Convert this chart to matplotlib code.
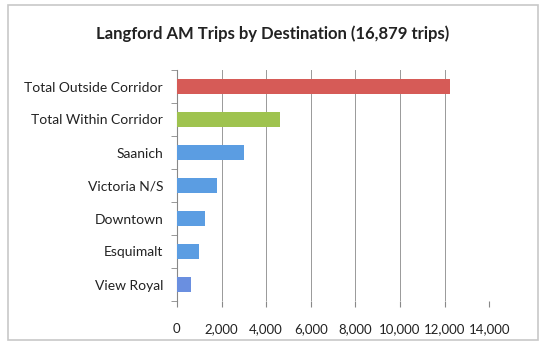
import matplotlib
matplotlib.use("Agg")
import matplotlib.pyplot as plt
from matplotlib.patches import Rectangle

categories = ["Total Outside Corridor", "Total Within Corridor", "Saanich",
              "Victoria N/S", "Downtown", "Esquimalt", "View Royal"]
trips = [12240, 4640, 3000, 1790, 1250, 990, 630]
colors = ["#d65b57", "#9fc34f", "#5b9de2", "#5b9de2", "#5b9de2", "#5b9de2", "#6a8fe0"]
xticks = [0, 2000, 4000, 6000, 8000, 10000, 12000, 14000]

plt.rcParams['font.family'] = ['Lato', 'DejaVu Sans']

fig = plt.figure(figsize=(5.46, 3.5), dpi=100)
# chart area frame
fig.patches.append(Rectangle((0.015, 0.03), 0.97, 0.955, transform=fig.transFigure,
                             fill=False, edgecolor="#c8c8c8", linewidth=1.2))

ax = fig.add_axes([0.324, 0.14, 0.572, 0.66])
y = list(range(len(categories)))
ax.barh(y, trips, height=0.48, color=colors, zorder=3)
ax.set_ylim(len(categories) - 0.5, -0.5)
ax.set_xlim(0, 14000)
ax.set_yticks(y)
ax.set_yticklabels(categories, fontsize=10, color="#222222")
ax.set_yticks([i + 0.5 for i in range(-1, len(categories))], minor=True)
ax.tick_params(axis="y", which="major", length=0, pad=10)
ax.tick_params(axis="y", which="minor", length=4, color="#888888")
ax.set_xticks(xticks)
ax.set_xticklabels(["{:,}".format(v) for v in xticks], fontsize=9.5, color="#222222")
ax.tick_params(axis="x", length=4, color="#888888", pad=12)
ax.grid(axis="x", color="#999999", linewidth=0.7, zorder=0)
for s in ["top", "right", "bottom"]:
    ax.spines[s].set_visible(False)
ax.spines["left"].set_color("#888888")

fig.text(0.5, 0.905, "Langford AM Trips by Destination (16,879 trips)",
         ha="center", va="center", fontsize=12, fontweight="bold", color="#222222")

fig.savefig("out.png", dpi=100)
